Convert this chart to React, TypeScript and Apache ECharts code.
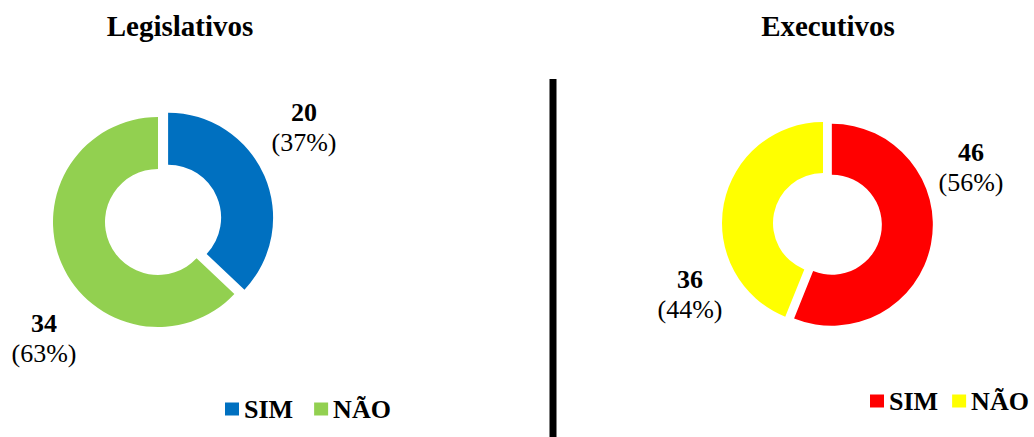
import React, { useEffect, useRef } from "react";
import * as echarts from "echarts";

// Legislativos: projects answering SIM / NÃO
const legCategories = ["SIM", "NÃO"];
const legValues = [20, 34];
const legColors = ["#0070C0", "#92D050"];

// Executivos: projects answering SIM / NÃO
const exeCategories = ["SIM", "NÃO"];
const exeValues = [46, 36];
const exeColors = ["#FF0000", "#FFFF00"];

const titles = ["Legislativos", "Executivos"];

const FONT = "'Liberation Serif', 'Times New Roman', serif";

const pct = (v: number, all: number[]) =>
  Math.round((v / all.reduce((a, b) => a + b, 0)) * 100);

const labelRich = {
  v: { fontFamily: FONT, fontSize: 26, fontWeight: "bold", fill: "#000", lineHeight: 30, align: "center" },
  p: { fontFamily: FONT, fontSize: 26, fill: "#000", lineHeight: 30, align: "center" },
};

function buildPie(
  names: string[],
  values: number[],
  colors: string[],
  center: [number, number],
  radius: [number, number],
  offset: number
) {
  return {
    type: "pie",
    center,
    radius,
    startAngle: 90,
    clockwise: true,
    silent: true,
    selectedMode: "single",
    selectedOffset: offset,
    emphasis: { disabled: true, scale: false },
    select: { itemStyle: { borderWidth: 0 } },
    label: { show: false },
    labelLine: { show: false },
    data: names.map((n, i) => ({
      name: n,
      value: values[i],
      selected: i === 0,
      itemStyle: { color: colors[i] },
    })),
  };
}

// value + percentage text blocks placed beside each slice
function buildValueLabels(values: number[], positions: [number, number][]) {
  return values.map((v, i) => ({
    type: "text",
    x: positions[i][0],
    y: positions[i][1],
    silent: true,
    style: {
      text: `{v|${v}}\n{p|(${pct(v, values)}%)}`,
      rich: labelRich,
      align: "center",
      verticalAlign: "middle",
      fill: "#000",
    },
  }));
}

function buildLegend(names: string[], colors: string[], left: number, top: number, gap: number) {
  return {
    left,
    top,
    width: 200,
    orient: "horizontal",
    icon: "rect",
    itemWidth: 14,
    itemHeight: 13,
    itemGap: gap,
    padding: 0,
    selectedMode: false,
    textStyle: { fontFamily: FONT, fontSize: 26, fontWeight: "bold", color: "#000" },
    data: names.map((n, i) => ({ name: n, itemStyle: { color: colors[i] } })),
  };
}

export default function App() {
  const ref = useRef<HTMLDivElement>(null);

  useEffect(() => {
    if (!ref.current) return;
    const chart = echarts.init(ref.current, undefined, { renderer: "svg" });
    chart.setOption({
      animation: false,
      backgroundColor: "#ffffff",
      title: [
        {
          text: titles[0],
          left: 175,
          top: 6,
          textAlign: "center",
          textStyle: { fontFamily: FONT, fontSize: 29, fontWeight: "bold", color: "#000" },
        },
        {
          text: titles[1],
          left: 823,
          top: 6,
          textAlign: "center",
          textStyle: { fontFamily: FONT, fontSize: 29, fontWeight: "bold", color: "#000" },
        },
      ],
      legend: [
        buildLegend(legCategories, legColors, 225, 396, 21),
        buildLegend(exeCategories, exeColors, 870, 388, 14),
      ],
      series: [
        buildPie(legCategories, legValues, legColors, [158, 222], [53, 105], 11),
        buildPie(exeCategories, exeValues, exeColors, [823, 223], [50, 101], 9),
      ],
      graphic: [
        {
          type: "line",
          shape: { x1: 553, y1: 79, x2: 553, y2: 437 },
          style: { stroke: "#000", lineWidth: 7 },
          silent: true,
        },
        ...buildValueLabels(legValues, [
          [304, 127],
          [44, 338],
        ]),
        ...buildValueLabels(exeValues, [
          [971, 167],
          [690, 294],
        ]),
      ],
    });
    return () => chart.dispose();
  }, []);

  return (
    <div
      ref={ref}
      style={{ position: "fixed", left: 0, top: 0, width: 1034, height: 437, background: "#fff" }}
    />
  );
}
